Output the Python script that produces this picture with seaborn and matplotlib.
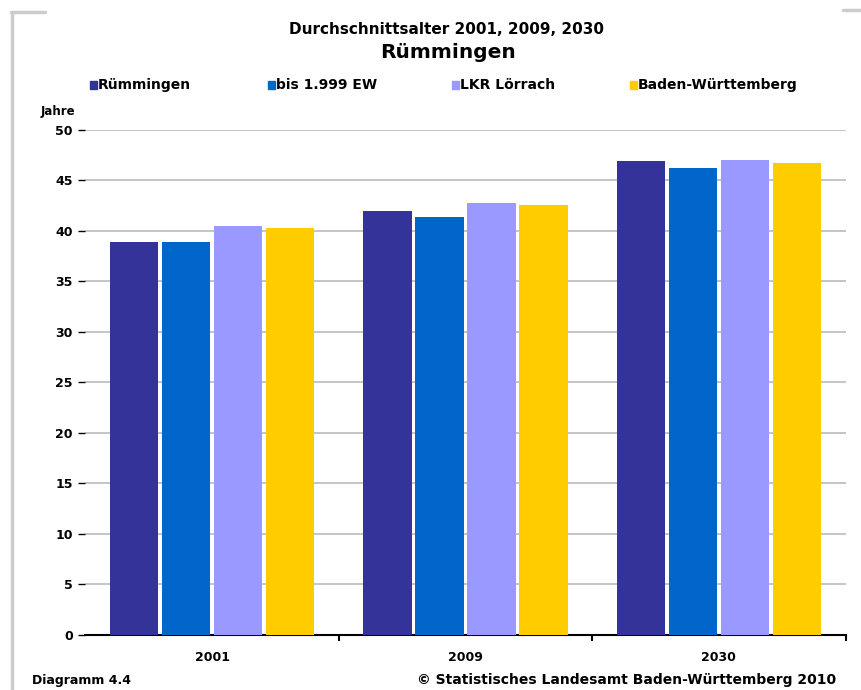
import matplotlib
matplotlib.use("Agg")
import matplotlib.pyplot as plt
from matplotlib.lines import Line2D
from matplotlib.patches import Rectangle
import pandas as pd
import seaborn as sns

jahre = ["2001", "2009", "2030"]
gebiete = ["Rümmingen", "bis 1.999 EW", "LKR Lörrach", "Baden-Württemberg"]
farben = ["#333399", "#0066CC", "#9999FF", "#FFCC00"]
alter_ruemmingen = [38.9, 42.0, 46.9]
alter_bis1999 = [38.9, 41.4, 46.2]
alter_lkr = [40.5, 42.7, 47.0]
alter_bw = [40.3, 42.5, 46.7]
y_ticks = [0, 5, 10, 15, 20, 25, 30, 35, 40, 45, 50]
legend_x = [0.1044, 0.3109, 0.5244, 0.7309]  # linke Kante der Legendenquadrate (Figurkoordinaten)

df = pd.DataFrame({
    "Jahr": jahre * 4,
    "Gebiet": [g for g in gebiete for _ in jahre],
    "Alter": alter_ruemmingen + alter_bis1999 + alter_lkr + alter_bw,
})

sns.set_style("white")
plt.rcParams["font.family"] = ["DejaVu Sans"]
plt.rcParams["text.color"] = "black"
plt.rcParams["xtick.color"] = "black"
plt.rcParams["ytick.color"] = "black"

fig = plt.figure(figsize=(8.62, 6.9), dpi=100)
ax = fig.add_axes([0.099, 0.080, 0.882, 0.732])

sns.barplot(data=df, x="Jahr", y="Alter", hue="Gebiet", hue_order=gebiete,
            palette=farben, width=0.82, gap=0.07, ax=ax, saturation=1,
            linewidth=0, zorder=3)

ax.set_ylim(0, 50)
ax.set_xlim(-0.5, 2.5)
ax.set_yticks(y_ticks)
ax.set_yticklabels([str(t) for t in y_ticks], fontsize=9, fontweight="bold")
ax.yaxis.grid(True, color="#BBBBBB", linewidth=1.2, zorder=0)
ax.set_axisbelow(True)
ax.tick_params(axis="y", length=5, width=1, color="black", pad=4, left=True)
ax.tick_params(axis="x", length=0, pad=12, labelsize=9)
for lbl in ax.get_xticklabels():
    lbl.set_fontweight("bold")
ax.set_xticks([0.5, 1.5, 2.5], minor=True)
ax.tick_params(axis="x", which="minor", length=4, width=1.5, color="black", bottom=True)
ax.set_xlabel("")
ax.set_ylabel("")
for side in ["top", "right", "left"]:
    ax.spines[side].set_visible(False)
ax.spines["bottom"].set_color("black")
ax.spines["bottom"].set_linewidth(1.5)

# Legende wie im Original mit festen Plätzen
ax.get_legend().remove()
for x, name, farbe in zip(legend_x, gebiete, farben):
    fig.add_artist(Rectangle((x, 0.871), 0.0085, 0.012, color=farbe,
                             transform=fig.transFigure))
    fig.text(x + 0.0095, 0.877, name, ha="left", va="center", fontsize=10, fontweight="bold")

fig.text(0.518, 0.957, "Durchschnittsalter 2001, 2009, 2030", ha="center", va="center",
         fontsize=11, fontweight="bold")
fig.text(0.52, 0.924, "Rümmingen", ha="center", va="center", fontsize=14.5, fontweight="bold")
fig.text(0.047, 0.838, "Jahre", ha="left", va="center", fontsize=8.5, fontweight="bold")
fig.text(0.037, 0.014, "Diagramm 4.4", ha="left", va="center", fontsize=9, fontweight="bold")
fig.text(0.970, 0.014, "© Statistisches Landesamt Baden-Württemberg 2010", ha="right",
         va="center", fontsize=10, fontweight="bold")

# grauer Rahmen links oben
fig.add_artist(Line2D([0.014, 0.014], [0.0, 0.983], color="#CCCCCC", lw=2.5))
fig.add_artist(Line2D([0.013, 0.052], [0.983, 0.983], color="#CCCCCC", lw=2.5))
fig.add_artist(Line2D([0.978, 1.0], [0.986, 0.986], color="#CCCCCC", lw=2.5))

fig.savefig("out.png", dpi=100)
